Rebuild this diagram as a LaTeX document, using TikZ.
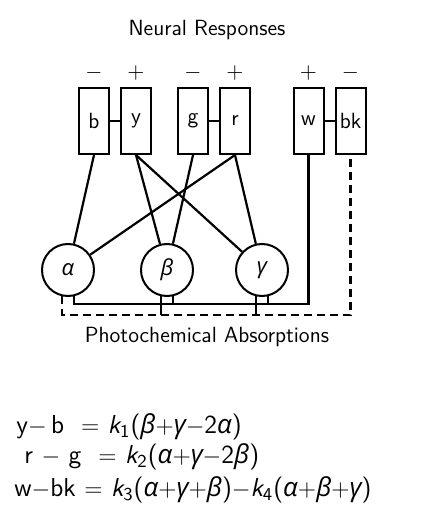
\documentclass[tikz,border=0pt]{standalone}
\usepackage{fontspec}
\newfontfamily\grkfont{Open Sans}
\newcommand{\ga}{{\grkfont\itshape α}}
\newcommand{\gb}{{\grkfont\itshape β}}
\newcommand{\gc}{{\grkfont\itshape γ}}
\newcommand{\kk}[1]{{\itshape k}\textsubscript{#1}}
\begin{document}
\begin{tikzpicture}[x=0.5pt,y=-0.5pt,
    every node/.style={font=\sffamily\fontsize{11}{13}\selectfont},
    resp/.style={draw,line width=1pt,minimum width=15pt,minimum height=33pt,inner sep=0pt},
    pig/.style={draw,circle,line width=1pt,minimum size=26pt,inner sep=0pt},
    wire/.style={line width=1.1pt},
    dwire/.style={line width=1.1pt,dash pattern=on 4pt off 2.5pt},
    eqn/.style={anchor=west,inner sep=0pt,text height=9pt,text depth=2.5pt,font=\sffamily\fontsize{13}{15}\selectfont}]
        \useasboundingbox (0,0) rectangle (427,513);

        \node (title) at (207,30) {Neural Responses};

        \node[resp,label=above:$-$] (b) at (94,121) {b};
        \node[resp,label=above:$+$] (y) at (136,121) {y};
        \node[resp,label=above:$-$] (g) at (193,121) {g};
        \node[resp,label=above:$+$] (r) at (235,121) {r};
        \node[resp,label=above:$+$] (w) at (308.5,121) {w};
        \node[resp,label=above:$-$] (bk) at (350.5,121) {bk};

        \node[pig] (alpha) at (68,270) {\ga};
        \node[pig] (beta) at (167,270) {\gb};
        \node[pig] (gamma) at (262,270) {\gc};

        \coordinate (sbus) at (308.5,304);
        \coordinate (dbus) at (350.5,315);

        \draw[wire] (b) -- (y);
        \draw[wire] (g) -- (r);
        \draw[wire] (w) -- (bk);

        \draw[wire] (b.south) -- (alpha);
        \draw[wire] (y.south) -- (beta);
        \draw[wire] (y.south) -- (gamma);
        \draw[wire] (g.south) -- (beta);
        \draw[wire] (r.south) -- (alpha);
        \draw[wire] (r.south) -- (gamma);

        % solid bus to w
        \draw[wire] (alpha.-78) |- (sbus) -- (w.south);
        \draw[wire] (beta.-78) -- (beta.-78 |- sbus);
        \draw[wire] (gamma.-78) -- (gamma.-78 |- sbus);
        % dashed bus to bk
        \draw[dwire] (alpha.-102) |- (dbus) -- (bk.south);
        \draw[wire] (beta.-102) -- (beta.-102 |- dbus);
        \draw[wire] (gamma.-102) -- (gamma.-102 |- dbus);

        \node (caption) at (207,337) {Photochemical Absorptions};

        \node[eqn] (eq1) at (16,427) {y$-$\,b\ \ $=$ \kk{1}(\gb$+$\gc$-$2\ga)};
        \node[eqn] (eq2) at (24,457) {r $-$ g\ \ $=$ \kk{2}(\ga$+$\gc$-$2\gb)};
        \node[eqn] (eq3) at (14,490) {w$-$bk $=$ \kk{3}(\ga$+$\gc$+$\gb)$-$\kk{4}(\ga$+$\gb$+$\gc)};
    \end{tikzpicture}
\end{document}
